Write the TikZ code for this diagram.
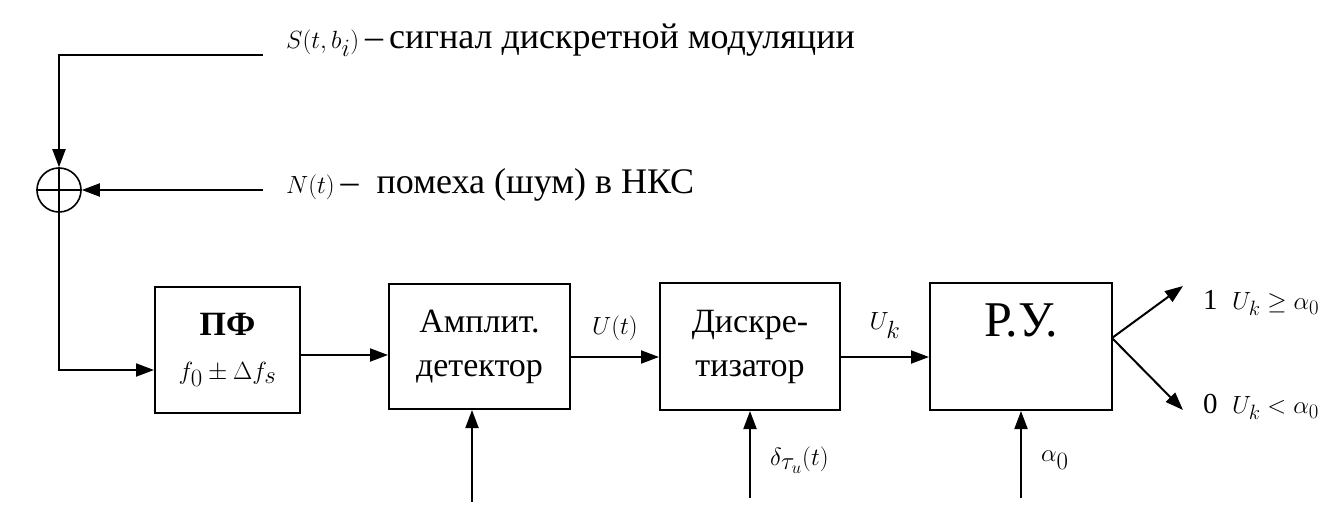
\documentclass[tikz,border=0pt]{standalone}
\usepackage{fontspec}
\setmainfont{Liberation Serif}
\usetikzlibrary{arrows.meta,positioning}
\tikzset{
    >={Triangle[length=18pt,width=13pt]},
    conn/.style={draw,line width=2pt},
    block/.style={draw,line width=2pt,align=center,inner sep=0pt,font=\fontsize{34}{44}\selectfont},
    lbl/.style={inner sep=0pt,anchor=west,font=\fontsize{36}{40}\selectfont},
    outlbl/.style={inner sep=0pt,anchor=west,font=\fontsize{29}{32}\selectfont}
}
\begin{document}
\begin{tikzpicture}[x=1pt,y=-1pt]
    \useasboundingbox (0,0) rectangle (1340,521);
    % sum point
    \node[draw,circle,line width=1.6pt,minimum size=44pt,inner sep=0pt] (sum) at (59,190) {};
    \draw[line width=1.6pt] (sum.north) -- (sum.south) (sum.west) -- (sum.east);
    \coordinate (sstart) at (263,55);
    \coordinate (nstart) at (263,190);
    \node[lbl] (slbl) at (286,40) {$S(t,b_i)$\,--\,сигнал дискретной модуляции};
    \node[lbl] (nlbl) at (286,185) {$N(t)$\,-- \ помеха (шум) в НКС};
    \draw[conn,->] (sstart) -| (sum.north);
    \draw[conn,->] (nstart) -- (sum.east);

    % blocks
    \node[block,minimum width=145pt,minimum height=126pt] (pf) at (227.5,350) {\textbf{ПФ}\\ $f_0\pm\Delta f_s$};
    \node[block,minimum width=181pt,minimum height=125pt] (amp) at (479.5,346.5) {Амплит.\\ детектор};
    \node[block,minimum width=180pt,minimum height=127pt] (disc) at (750,346.5) {Дискре-\\ тизатор};
    \node[block,minimum width=182pt,minimum height=127pt] (ru) at (1021,346.5) {};
    \node[inner sep=0pt,font=\fontsize{50}{54}\selectfont] (rutxt) at (1021,320) {Р.У.};

    \draw[conn,->] (sum.south) |- (pf.west |- 0,370);
    \draw[conn,->] (pf.east |- 0,355) -- (amp.west |- 0,355);
    \draw[conn,->] (amp.east |- 0,357) -- node[above=12pt,font=\fontsize{36}{40}\selectfont] (ulbl) {$U(t)$} (disc.west |- 0,357);
    \draw[conn,->] (disc.east |- 0,357) -- node[above=14pt,font=\fontsize{36}{40}\selectfont] (uklbl) {$U_k$} (ru.west |- 0,357);

    % lower inputs
    \coordinate (ampin) at (472,502);
    \coordinate (discin) at (750,498);
    \coordinate (ruin) at (1021,498);
    \draw[conn,->] (ampin) -- (amp.south -| ampin);
    \draw[conn,->] (discin) -- (disc.south);
    \draw[conn,->] (ruin) -- (ru.south);
    \node[lbl] (dlbl) at (770,460) {$\delta_{\tau_u}(t)$};
    \node[lbl] (albl) at (1041,460) {$\alpha_0$};

    % outputs
    \coordinate (branch) at (1112,338);
    \coordinate (out1) at (1183,286);
    \coordinate (out0) at (1183,410);
    \draw[conn,->] (branch) -- (out1);
    \draw[conn,->] (branch) -- (out0);
    \node[outlbl] (o1lbl) at (1203,303) {1 \ $U_k\geq\alpha_0$};
    \node[outlbl] (o0lbl) at (1203,407) {0 \ $U_k<\alpha_0$};
\end{tikzpicture}
\end{document}
